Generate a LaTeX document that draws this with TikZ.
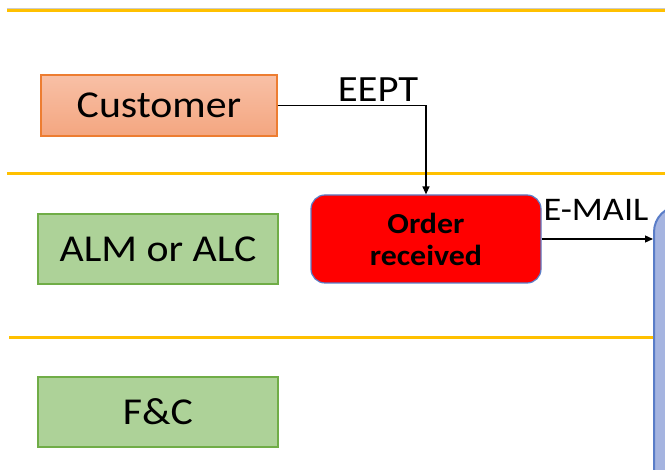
\documentclass[tikz,border=0pt]{standalone}
\usepackage{fontspec}
\setmainfont{Carlito}[FakeStretch=1.1]
\usetikzlibrary{arrows.meta,calc}
\definecolor{laneline}{RGB}{255,192,0}
\definecolor{custfillA}{RGB}{248,192,166}
\definecolor{custfillB}{RGB}{244,166,128}
\definecolor{custedge}{RGB}{237,125,49}
\definecolor{greenfill}{RGB}{173,210,152}
\definecolor{greenedge}{RGB}{112,173,71}
\definecolor{blueedge}{RGB}{90,125,200}
\definecolor{bluefill}{RGB}{165,180,224}
\tikzset{
  lane/.style={draw=laneline, line width=3pt},
  actor/.style={draw=greenedge, fill=greenfill, line width=1.4pt,
    minimum width=240pt, minimum height=70pt, inner sep=0pt,
    font=\fontsize{38}{40}\selectfont},
  orderbox/.style={draw=blueedge, fill=red, line width=1.2pt, rounded corners=14pt,
    minimum width=230pt, minimum height=88pt, inner sep=0pt, align=center,
    font=\bfseries\fontsize{29}{34}\selectfont},
  flow/.style={draw=black, line width=1.3pt, -{Triangle[length=8pt,width=7pt]}},
  flowlabel/.style={inner sep=0pt, anchor=base},
}
\begin{document}
\begin{tikzpicture}[x=1pt,y=-1pt]
  \useasboundingbox (0,0) rectangle (665,470);
  \clip (0,0) rectangle (665,470);
  \fill[white] (0,0) rectangle (665,470);

  % lane separators
  \draw[gray!40, line width=0.8pt] (7,8) -- (665,8);
  \draw[lane] (7,11) -- (665,11);
  \draw[lane] (7,174) -- (665,174);
  \draw[lane] (9,338) -- (655,338);

  % process box running off the right edge
  \node[draw=blueedge, fill=bluefill, line width=2pt, rounded corners=26pt,
        minimum width=120pt, minimum height=320pt, anchor=north west]
        (next) at (653,205) {};

  % actors
  \node[actor, draw=custedge, top color=custfillA, bottom color=custfillB,
        minimum width=236pt, minimum height=61pt] (cust) at (159,105.5) {Customer};
  \node[actor] (alm) at (158,249) {ALM or ALC};
  \node[actor] (fc) at (158,412) {F\&C};

  % first step
  \node[orderbox] (order) at (426,239) {Order\\[-2pt]received};

  % connectors
  \draw[flow] (cust.east) -| (order.north);
  \node[flowlabel, font=\fontsize{37}{40}\selectfont] (eept) at (378,102) {EEPT};
  \draw[flow] (order.east) -- (order.east -| next.west);
  \node[flowlabel, font=\fontsize{33}{36}\selectfont] (mail) at (596,221) {E-MAIL};
\end{tikzpicture}
\end{document}
